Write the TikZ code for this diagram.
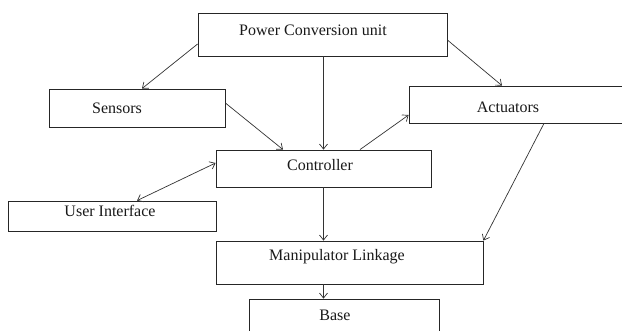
\documentclass[tikz,border=0pt]{standalone}
\usepackage{fontspec}
\setmainfont{Liberation Serif}
\usetikzlibrary{arrows.meta}
\begin{document}
\begin{tikzpicture}[x=1pt,y=-1pt,
  box/.style={draw=black!85, line width=0.8pt, rectangle, inner sep=0pt},
  lbl/.style={inner sep=0pt, font=\fontsize{16}{19}\selectfont, text=black!90},
  arr/.style={draw=black!80, line width=0.7pt, -{Straight Barb[length=5pt,width=8pt]}},
  darr/.style={draw=black!80, line width=0.7pt, {Straight Barb[length=5pt,width=8pt]}-{Straight Barb[length=5pt,width=8pt]}}]
\useasboundingbox[fill=white] (0,0) rectangle (622,331);
% boxes
\node[box, minimum width=249pt, minimum height=43pt] (pcu)  at (322.5,34.5) {};
\node[box, minimum width=176pt, minimum height=38pt] (sens) at (137,108) {};
\node[box, minimum width=223pt, minimum height=37pt] (act)  at (520.5,104.5) {};
\node[box, minimum width=215pt, minimum height=37pt] (ctrl) at (323.5,168.5) {};
\node[box, minimum width=208pt, minimum height=30pt] (ui)   at (112,216) {};
\node[box, minimum width=267pt, minimum height=43pt] (ml)   at (349.5,262.5) {};
\node[box, minimum width=190pt, minimum height=46pt] (base) at (344,322) {};
% labels
\node[lbl] (tpcu)  at (313,30)  {Power Conversion unit};
\node[lbl] (tsens) at (117,108) {Sensors};
\node[lbl] (tact)  at (508,107) {Actuators};
\node[lbl] (tctrl) at (320,165) {Controller};
\node[lbl] (tui)   at (110,211) {User Interface};
\node[lbl] (tml)   at (337,257) {Manipulator Linkage};
\node[lbl] (tbase) at (335,315) {Base};
% connectors
\draw[arr] ([yshift=-9.5pt]pcu.west) -- ([xshift=5pt]sens.north);
\draw[arr] (ctrl.north |- pcu.south) -- (ctrl.north);
\draw[arr] ([yshift=-5.5pt]pcu.east) -- ([xshift=-18.5pt]act.north);
\draw[arr] ([yshift=5pt]sens.east) -- ([xshift=-40.5pt]ctrl.north);
\draw[arr] ([xshift=36.5pt]ctrl.north) -- ([yshift=-10.5pt]act.west);
\draw[darr] ([xshift=25pt]ui.north) -- ([yshift=5.5pt]ctrl.west);
\draw[arr] (ctrl.south) -- (ctrl.south |- ml.north);
\draw[arr] ([xshift=23.5pt]act.south) -- (ml.north east);
\draw[arr] (ml.south -| ctrl.south) -- (base.north -| ctrl.south);
\end{tikzpicture}
\end{document}
